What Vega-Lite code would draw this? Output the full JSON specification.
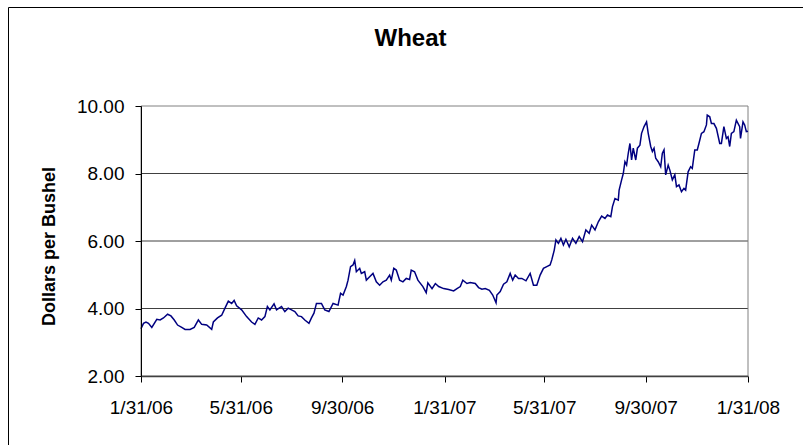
{
  "$schema": "https://vega.github.io/schema/vega-lite/v6.json",
  "width": 795,
  "height": 438,
  "autosize": {"type": "none"},
  "padding": {"left": 8, "top": 7, "right": 0, "bottom": 0},
  "background": "white",
  "config": {"view": {"stroke": "black", "strokeWidth": 1}, "font": "Liberation Sans"},
  "title": {"text": "Wheat", "font": "Liberation Sans", "fontSize": 24, "fontWeight": "bold", "color": "black", "anchor": "middle", "frame": "group", "baseline": "alphabetic", "offset": -63, "dx": 5},
  "datasets": {
    "grid": [{"v": 4}, {"v": 6}, {"v": 8}],
    "wheat": [
      {"date": "2006-01-31", "price": 3.40}, {"date": "2006-02-03", "price": 3.56}, {"date": "2006-02-06", "price": 3.60},
      {"date": "2006-02-09", "price": 3.56}, {"date": "2006-02-13", "price": 3.44}, {"date": "2006-02-19", "price": 3.68},
      {"date": "2006-02-23", "price": 3.66}, {"date": "2006-02-27", "price": 3.72}, {"date": "2006-03-04", "price": 3.83},
      {"date": "2006-03-08", "price": 3.78}, {"date": "2006-03-12", "price": 3.66}, {"date": "2006-03-16", "price": 3.51},
      {"date": "2006-03-21", "price": 3.44}, {"date": "2006-03-25", "price": 3.38}, {"date": "2006-03-31", "price": 3.38},
      {"date": "2006-04-05", "price": 3.44}, {"date": "2006-04-10", "price": 3.66}, {"date": "2006-04-14", "price": 3.53},
      {"date": "2006-04-20", "price": 3.51}, {"date": "2006-04-26", "price": 3.38}, {"date": "2006-04-28", "price": 3.60},
      {"date": "2006-05-03", "price": 3.72}, {"date": "2006-05-08", "price": 3.80}, {"date": "2006-05-12", "price": 4.01},
      {"date": "2006-05-16", "price": 4.22}, {"date": "2006-05-20", "price": 4.15}, {"date": "2006-05-23", "price": 4.24},
      {"date": "2006-05-26", "price": 4.08}, {"date": "2006-06-01", "price": 3.96}, {"date": "2006-06-07", "price": 3.76},
      {"date": "2006-06-13", "price": 3.60}, {"date": "2006-06-17", "price": 3.53}, {"date": "2006-06-21", "price": 3.72},
      {"date": "2006-06-25", "price": 3.66}, {"date": "2006-06-29", "price": 3.76}, {"date": "2006-07-02", "price": 4.06},
      {"date": "2006-07-05", "price": 3.96}, {"date": "2006-07-10", "price": 4.14}, {"date": "2006-07-13", "price": 3.96},
      {"date": "2006-07-19", "price": 4.06}, {"date": "2006-07-23", "price": 3.91}, {"date": "2006-07-27", "price": 4.01},
      {"date": "2006-07-31", "price": 3.96}, {"date": "2006-08-04", "price": 3.91}, {"date": "2006-08-08", "price": 3.78},
      {"date": "2006-08-12", "price": 3.76}, {"date": "2006-08-16", "price": 3.66}, {"date": "2006-08-21", "price": 3.56},
      {"date": "2006-08-24", "price": 3.72}, {"date": "2006-08-27", "price": 3.86}, {"date": "2006-08-30", "price": 4.15},
      {"date": "2006-09-05", "price": 4.15}, {"date": "2006-09-09", "price": 3.96}, {"date": "2006-09-14", "price": 3.91},
      {"date": "2006-09-19", "price": 4.15}, {"date": "2006-09-25", "price": 4.10}, {"date": "2006-09-28", "price": 4.45},
      {"date": "2006-10-01", "price": 4.40}, {"date": "2006-10-05", "price": 4.65}, {"date": "2006-10-07", "price": 4.84},
      {"date": "2006-10-10", "price": 5.24}, {"date": "2006-10-13", "price": 5.29}, {"date": "2006-10-15", "price": 5.42},
      {"date": "2006-10-17", "price": 5.09}, {"date": "2006-10-21", "price": 5.19}, {"date": "2006-10-23", "price": 5.04},
      {"date": "2006-10-27", "price": 5.09}, {"date": "2006-10-29", "price": 4.84}, {"date": "2006-11-02", "price": 4.94},
      {"date": "2006-11-06", "price": 5.04}, {"date": "2006-11-10", "price": 4.79}, {"date": "2006-11-14", "price": 4.69},
      {"date": "2006-11-18", "price": 4.79}, {"date": "2006-11-22", "price": 4.84}, {"date": "2006-11-26", "price": 4.99},
      {"date": "2006-11-28", "price": 4.84}, {"date": "2006-12-01", "price": 5.19}, {"date": "2006-12-04", "price": 5.14},
      {"date": "2006-12-08", "price": 4.84}, {"date": "2006-12-12", "price": 4.79}, {"date": "2006-12-16", "price": 4.89},
      {"date": "2006-12-20", "price": 4.86}, {"date": "2006-12-22", "price": 5.14}, {"date": "2006-12-26", "price": 5.09},
      {"date": "2006-12-30", "price": 4.84}, {"date": "2007-01-05", "price": 4.65}, {"date": "2007-01-09", "price": 4.47},
      {"date": "2007-01-11", "price": 4.76}, {"date": "2007-01-16", "price": 4.59}, {"date": "2007-01-20", "price": 4.74},
      {"date": "2007-01-24", "price": 4.65}, {"date": "2007-01-30", "price": 4.59}, {"date": "2007-02-05", "price": 4.56},
      {"date": "2007-02-11", "price": 4.52}, {"date": "2007-02-15", "price": 4.59}, {"date": "2007-02-19", "price": 4.65},
      {"date": "2007-02-22", "price": 4.84}, {"date": "2007-02-27", "price": 4.74}, {"date": "2007-03-03", "price": 4.77},
      {"date": "2007-03-09", "price": 4.74}, {"date": "2007-03-13", "price": 4.62}, {"date": "2007-03-17", "price": 4.57},
      {"date": "2007-03-21", "price": 4.59}, {"date": "2007-03-26", "price": 4.54}, {"date": "2007-03-30", "price": 4.40},
      {"date": "2007-04-03", "price": 4.17}, {"date": "2007-04-04", "price": 4.40}, {"date": "2007-04-08", "price": 4.50},
      {"date": "2007-04-12", "price": 4.72}, {"date": "2007-04-16", "price": 4.79}, {"date": "2007-04-20", "price": 5.04},
      {"date": "2007-04-23", "price": 4.84}, {"date": "2007-04-26", "price": 4.99}, {"date": "2007-04-30", "price": 4.89},
      {"date": "2007-05-04", "price": 4.89}, {"date": "2007-05-09", "price": 4.82}, {"date": "2007-05-14", "price": 5.04},
      {"date": "2007-05-18", "price": 4.69}, {"date": "2007-05-22", "price": 4.69}, {"date": "2007-05-26", "price": 4.99},
      {"date": "2007-05-30", "price": 5.19}, {"date": "2007-06-03", "price": 5.24}, {"date": "2007-06-07", "price": 5.29},
      {"date": "2007-06-09", "price": 5.44}, {"date": "2007-06-12", "price": 5.73}, {"date": "2007-06-14", "price": 6.03},
      {"date": "2007-06-17", "price": 5.93}, {"date": "2007-06-20", "price": 6.08}, {"date": "2007-06-23", "price": 5.88},
      {"date": "2007-06-26", "price": 6.05}, {"date": "2007-06-30", "price": 5.83}, {"date": "2007-07-04", "price": 6.08},
      {"date": "2007-07-08", "price": 5.93}, {"date": "2007-07-12", "price": 6.13}, {"date": "2007-07-16", "price": 5.98},
      {"date": "2007-07-20", "price": 6.33}, {"date": "2007-07-24", "price": 6.23}, {"date": "2007-07-27", "price": 6.47},
      {"date": "2007-07-31", "price": 6.33}, {"date": "2007-08-04", "price": 6.57}, {"date": "2007-08-08", "price": 6.74},
      {"date": "2007-08-12", "price": 6.67}, {"date": "2007-08-15", "price": 6.77}, {"date": "2007-08-19", "price": 6.72},
      {"date": "2007-08-21", "price": 7.02}, {"date": "2007-08-24", "price": 7.26}, {"date": "2007-08-28", "price": 7.21},
      {"date": "2007-08-29", "price": 7.51}, {"date": "2007-09-01", "price": 7.81}, {"date": "2007-09-03", "price": 8.00},
      {"date": "2007-09-05", "price": 8.35}, {"date": "2007-09-07", "price": 8.25}, {"date": "2007-09-09", "price": 8.60},
      {"date": "2007-09-11", "price": 8.89}, {"date": "2007-09-13", "price": 8.40}, {"date": "2007-09-15", "price": 8.75},
      {"date": "2007-09-18", "price": 8.40}, {"date": "2007-09-20", "price": 8.75}, {"date": "2007-09-23", "price": 8.84},
      {"date": "2007-09-25", "price": 9.19}, {"date": "2007-09-28", "price": 9.39}, {"date": "2007-10-01", "price": 9.53},
      {"date": "2007-10-03", "price": 9.19}, {"date": "2007-10-06", "price": 8.80}, {"date": "2007-10-08", "price": 8.65},
      {"date": "2007-10-10", "price": 8.75}, {"date": "2007-10-12", "price": 8.45}, {"date": "2007-10-15", "price": 8.35},
      {"date": "2007-10-18", "price": 8.20}, {"date": "2007-10-20", "price": 8.60}, {"date": "2007-10-22", "price": 8.70},
      {"date": "2007-10-24", "price": 7.96}, {"date": "2007-10-27", "price": 8.25}, {"date": "2007-10-29", "price": 8.10},
      {"date": "2007-11-01", "price": 7.81}, {"date": "2007-11-04", "price": 7.96}, {"date": "2007-11-06", "price": 7.61},
      {"date": "2007-11-09", "price": 7.66}, {"date": "2007-11-12", "price": 7.46}, {"date": "2007-11-15", "price": 7.56},
      {"date": "2007-11-17", "price": 7.51}, {"date": "2007-11-20", "price": 8.05}, {"date": "2007-11-23", "price": 8.20},
      {"date": "2007-11-25", "price": 8.15}, {"date": "2007-11-28", "price": 8.70}, {"date": "2007-12-01", "price": 8.70},
      {"date": "2007-12-03", "price": 8.89}, {"date": "2007-12-06", "price": 9.19}, {"date": "2007-12-09", "price": 9.24},
      {"date": "2007-12-12", "price": 9.44}, {"date": "2007-12-13", "price": 9.73}, {"date": "2007-12-16", "price": 9.68},
      {"date": "2007-12-18", "price": 9.48}, {"date": "2007-12-21", "price": 9.48}, {"date": "2007-12-24", "price": 9.34},
      {"date": "2007-12-28", "price": 8.89}, {"date": "2007-12-30", "price": 8.89}, {"date": "2008-01-02", "price": 9.39},
      {"date": "2008-01-05", "price": 9.04}, {"date": "2008-01-07", "price": 9.09}, {"date": "2008-01-09", "price": 8.80},
      {"date": "2008-01-11", "price": 9.19}, {"date": "2008-01-14", "price": 9.24}, {"date": "2008-01-17", "price": 9.58},
      {"date": "2008-01-21", "price": 9.39}, {"date": "2008-01-22", "price": 9.04}, {"date": "2008-01-25", "price": 9.53},
      {"date": "2008-01-27", "price": 9.44}, {"date": "2008-01-29", "price": 9.24}, {"date": "2008-01-31", "price": 9.25}
    ]
  },
  "layer": [
    {
      "data": {"name": "grid"},
      "mark": {"type": "rule", "color": "#404040", "strokeWidth": 1},
      "encoding": {
        "y": {"field": "v", "type": "quantitative", "title": "Dollars per Bushel"},
        "x": {"datum": {"year": 2006, "month": 1, "date": 31, "utc": true}, "type": "temporal", "title": null},
        "x2": {"datum": {"year": 2008, "month": 1, "date": 31, "utc": true}}
      }
    },
    {
      "data": {"values": [{}]},
      "mark": {"type": "rect", "filled": false, "color": "#808080", "strokeWidth": 1},
      "encoding": {
        "x": {"datum": {"year": 2006, "month": 1, "date": 31, "utc": true}, "type": "temporal", "title": null},
        "x2": {"datum": {"year": 2008, "month": 1, "date": 31, "utc": true}},
        "y": {"datum": 2, "type": "quantitative", "title": "Dollars per Bushel"},
        "y2": {"datum": 10}
      }
    },
    {
      "data": {"name": "wheat"},
      "mark": {"type": "line", "color": "#000080", "strokeWidth": 1.5, "clip": false},
      "encoding": {
        "x": {
          "field": "date", "type": "temporal", "title": null,
          "scale": {"type": "utc", "domain": [{"year": 2006, "month": 1, "date": 31, "utc": true}, {"year": 2008, "month": 1, "date": 31, "utc": true}], "range": [133, 740], "nice": false},
          "axis": {
            "title": null, "grid": false, "offset": -69,
            "values": [
              {"year": 2006, "month": 1, "date": 31, "utc": true},
              {"year": 2006, "month": 5, "date": 31, "utc": true},
              {"year": 2006, "month": 9, "date": 30, "utc": true},
              {"year": 2007, "month": 1, "date": 31, "utc": true},
              {"year": 2007, "month": 5, "date": 31, "utc": true},
              {"year": 2007, "month": 9, "date": 30, "utc": true},
              {"year": 2008, "month": 1, "date": 31, "utc": true}
            ],
            "format": "%-m/%-d/%y",
            "domainColor": "#404040", "domainWidth": 1.5,
            "tickColor": "black", "tickSize": 6, "tickWidth": 1,
            "labelFont": "Liberation Sans", "labelFontSize": 19, "labelColor": "black",
            "labelPadding": 16, "labelFlush": false, "labelOverlap": false, "zindex": 1
          }
        },
        "y": {
          "field": "price", "type": "quantitative", "title": "Dollars per Bushel",
          "scale": {"domain": [2, 10], "range": [369, 99], "nice": false, "zero": false},
          "axis": {
            "title": "Dollars per Bushel", "grid": false, "offset": -133,
            "values": [2, 4, 6, 8, 10], "format": ".2f",
            "domainColor": "black", "domainWidth": 1,
            "tickColor": "black", "tickSize": 6, "tickWidth": 1,
            "labelFont": "Liberation Sans", "labelFontSize": 19, "labelColor": "black",
            "labelPadding": 11, "labelFlush": false, "labelOverlap": false,
            "titleFont": "Liberation Sans", "titleFontSize": 18, "titleFontWeight": "bold", "titleColor": "black",
            "titleX": -92, "titleY": 239, "titleAngle": -90, "titleAlign": "center", "titleBaseline": "middle",
            "zindex": 1
          }
        }
      }
    }
  ]
}
